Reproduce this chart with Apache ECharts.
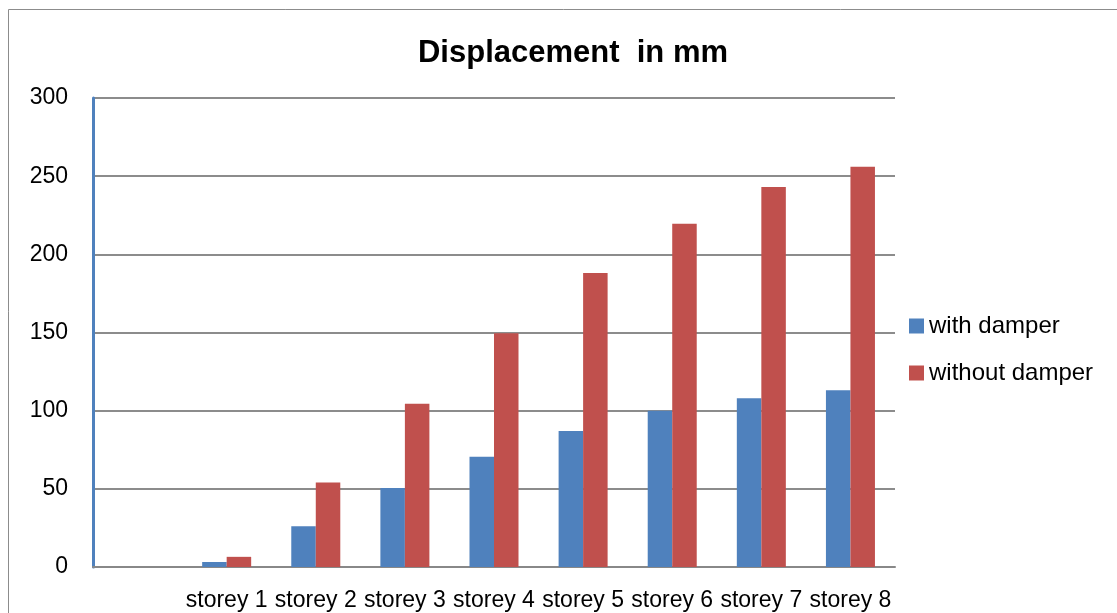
<!DOCTYPE html>
<html>
<head>
<meta charset="utf-8">
<script src="https://cdn.jsdelivr.net/npm/echarts@6/dist/echarts.min.js"></script>
<style>
  html, body { margin: 0; padding: 0; background: #fff; }
  #chart { width: 1117px; height: 613px; }
</style>
</head>
<body>
<div id="chart"></div>
<script>
// first category is the ground level, left without a label
const categories = ['', 'storey 1', 'storey 2', 'storey 3', 'storey 4', 'storey 5', 'storey 6', 'storey 7', 'storey 8']
const withDamper = [0, 3.2, 26, 50.5, 70.5, 87, 100, 108, 113]
const withoutDamper = [0, 6.5, 54, 104.5, 149.5, 188, 219.5, 243, 256]
const yTicks = { min: 0, max: 300, interval: 50 }

const chart = echarts.init(document.getElementById('chart'))
const font = '"Liberation Sans", Arial, sans-serif'

chart.setOption({
  animation: false,
  textStyle: { fontFamily: font },
  title: {
    text: 'Displacement  in mm',
    left: 568,
    textAlign: 'center',
    top: 33,
    textStyle: { fontSize: 31, fontWeight: 'bold', color: '#000', fontFamily: font }
  },
  graphic: [{
    type: 'rect',
    shape: { x: 8.5, y: 9.5, width: 1130, height: 630 },
    style: { fill: 'none', stroke: '#8c8c8c', lineWidth: 1 },
    silent: true
  }],
  legend: {
    orient: 'vertical',
    left: 904,
    top: 309,
    itemWidth: 15,
    itemHeight: 15,
    itemGap: 23,
    icon: 'rect',
    textStyle: { fontSize: 24, color: '#000', fontFamily: font },
    data: ['with damper', 'without damper']
  },
  grid: { left: 93, right: 222, top: 98, bottom: 46 },
  xAxis: {
    type: 'category',
    data: categories,
    axisLine: { lineStyle: { color: '#888', width: 2 } },
    axisTick: { show: false },
    axisLabel: { color: '#000', fontSize: 23, margin: 22, interval: 0 }
  },
  yAxis: {
    type: 'value',
    min: yTicks.min,
    max: yTicks.max,
    interval: yTicks.interval,
    axisLine: { show: true, lineStyle: { color: '#4f81bd', width: 3 } },
    axisTick: { show: false },
    axisLabel: { color: '#000', fontSize: 23, margin: 25 },
    splitLine: { lineStyle: { color: '#8c8c8c', width: 2 } }
  },
  series: [
    {
      name: 'with damper',
      type: 'bar',
      data: withDamper,
      barWidth: '27.5%',
      barGap: '0%',
      itemStyle: { color: '#4f81bd' }
    },
    {
      name: 'without damper',
      type: 'bar',
      data: withoutDamper,
      barWidth: '27.5%',
      itemStyle: { color: '#c0504d' }
    }
  ]
})
</script>
</body>
</html>
